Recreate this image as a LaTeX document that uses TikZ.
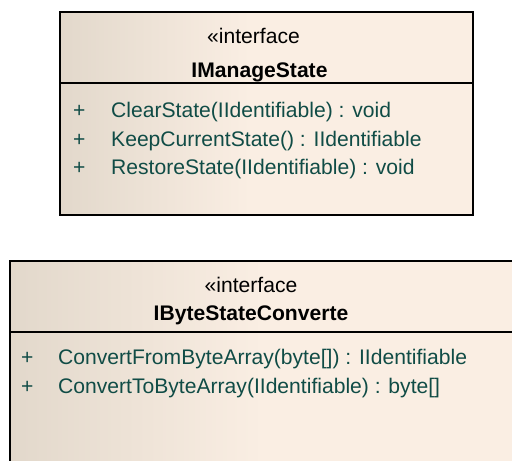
\documentclass[tikz,border=0pt]{standalone}
\usepackage{fontspec}
\setmainfont{Liberation Sans}
\definecolor{fillL}{RGB}{226,216,203}
\definecolor{fillR}{RGB}{250,238,227}
\definecolor{optext}{RGB}{16,76,70}
\pgfdeclarehorizontalshading{umlfill}{100bp}{color(0bp)=(fillL); color(25bp)=(fillL); color(48bp)=(fillR); color(100bp)=(fillR)}
\begin{document}
\begin{tikzpicture}[x=1pt,y=-1pt,
  classbox/.style={shading=umlfill,draw=black,line width=2.4pt},
  divider/.style={draw=black,line width=2.2pt},
  txt/.style={inner sep=0pt,font=\fontsize{21.1}{25}\selectfont},
  stereo/.style={txt,anchor=base},
  cname/.style={txt,anchor=base,font=\fontsize{21.1}{25}\selectfont\bfseries},
  vis/.style={txt,anchor=base west,text=optext},
  op/.style={txt,anchor=base west,text=optext}]
\useasboundingbox (0,0) rectangle (512,461);
\clip (0,0) rectangle (512,461);
% box 1
\path[classbox] (60,12) rectangle (473,215);
\draw[divider] (60,83) -- (473,83);
\node[stereo] (s1) at (253.5,43) {«interface};
\node[cname] (n1) at (259.5,77) {IManageState};
\node[vis] (p11) at (73,117.5) {+};
\node[op] (o11) at (111,117.5) {ClearState(IIdentifiable) : void};
\node[vis] (p12) at (73,146) {+};
\node[op] (o12) at (111,146) {KeepCurrentState() : IIdentifiable};
\node[vis] (p13) at (73,174.5) {+};
\node[op] (o13) at (111,174.5) {RestoreState(IIdentifiable) : void};
% box 2
\path[classbox] (10,261) rectangle (560,480);
\draw[divider] (10,332) -- (560,332);
\node[stereo] (s2) at (251,292) {«interface};
\node[cname] (n2) at (251,320) {IByteStateConverte};
\node[vis] (p21) at (21,364) {+};
\node[op] (o21) at (58,364) {ConvertFromByteArray(byte[]) : IIdentifiable};
\node[vis] (p22) at (21,393) {+};
\node[op] (o22) at (58,393) {ConvertToByteArray(IIdentifiable) : byte[]};
\end{tikzpicture}
\end{document}
